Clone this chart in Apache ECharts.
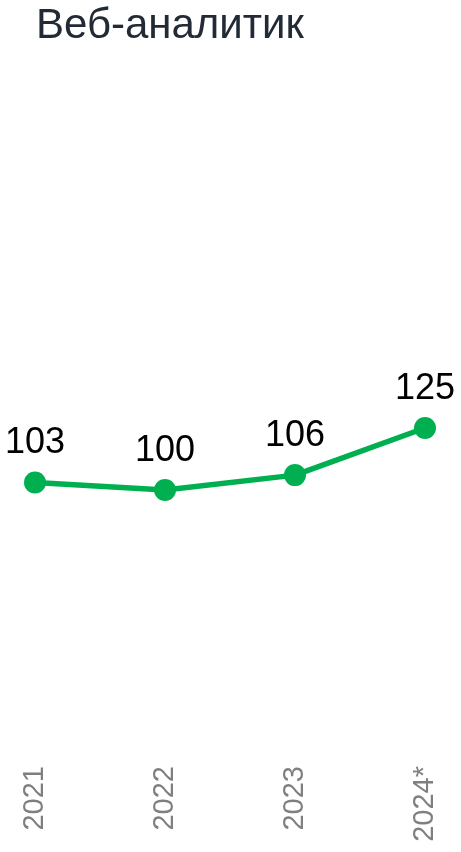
<!DOCTYPE html>
<html><head><meta charset="utf-8">
<script src="https://cdn.jsdelivr.net/npm/echarts@6/dist/echarts.min.js"></script>
<style>html,body{margin:0;padding:0;background:#fff}#c{width:461px;height:852px}</style>
</head><body><div id="c"></div>
<script>
const titleText = 'Веб-аналитик';
const categories = ['2021', '2022', '2023', '2024*'];
const values = [103, 100, 106, 125];

const chart = echarts.init(document.getElementById('c'), null, {renderer: 'canvas'});
chart.setOption({
  animation: false,
  title: {
    text: titleText, left: 31, top: 0,
    textStyle: {fontFamily: 'Liberation Sans, Arial, sans-serif', fontSize: 42, fontWeight: 'normal', color: '#222a35'}
  },
  grid: {left: 35, right: 36, top: 242, bottom: 114, containLabel: false},
  xAxis: {
    type: 'category', data: categories, boundaryGap: false,
    axisLine: {show: false}, axisTick: {show: false},
    axisLabel: {rotate: 90, margin: 28, fontSize: 29, color: '#7f7f7f', fontFamily: 'Liberation Sans, Arial, sans-serif'}
  },
  yAxis: {type: 'value', min: 0, max: 200, show: false, splitLine: {show: false}},
  series: [{
    type: 'line', data: values, symbol: 'circle', symbolSize: 22,
    lineStyle: {color: '#00b050', width: 5.5}, itemStyle: {color: '#00b050'},
    label: {show: true, position: 'top', distance: 10, fontSize: 36, color: '#000', fontFamily: 'Liberation Sans, Arial, sans-serif'}
  }]
});
</script></body></html>
